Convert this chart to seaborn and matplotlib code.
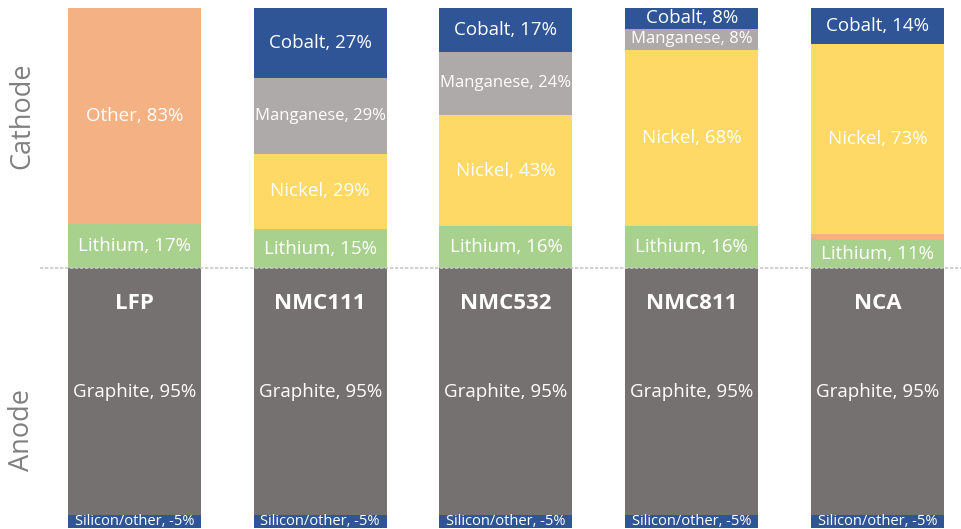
import matplotlib
matplotlib.use("Agg")
import matplotlib.pyplot as plt
import seaborn as sns
import numpy as np

# ---- data ----
categories = ["LFP", "NMC111", "NMC532", "NMC811", "NCA"]
# cathode (stacked upward, bottom -> top)
lithium = [17, 15, 16, 16, 11]
other = [83, 0, 0, 0, 2]
nickel = [0, 29, 43, 68, 73]
manganese = [0, 29, 24, 8, 0]
cobalt = [0, 27, 17, 8, 14]
# anode (stacked downward)
graphite = [95, 95, 95, 95, 95]
silicon = [5, 5, 5, 5, 5]

cathode_layers = [
    ("Lithium", lithium, "#A9D18E", 13.5),
    ("Other", other, "#F4B183", 13.5),
    ("Nickel", nickel, "#FFD966", 13.5),
    ("Manganese", manganese, "#AEAAAA", 12),
    ("Cobalt", cobalt, "#2F5597", 13.5),
]
anode_layers = [
    ("Graphite", graphite, "#767171", 13.5),
    ("Silicon/other", silicon, "#2F5597", 10.5),
]

sns.set_theme(style="white")
plt.rcParams["font.family"] = ["Open Sans", "DejaVu Sans"]

fig = plt.figure(figsize=(9.61, 5.29), dpi=100)
ax = fig.add_axes([0, 0, 1, 1])

width = 0.716

# cathode: draw cumulative totals from top layer down
cum = np.cumsum([np.array(l[1]) for l in cathode_layers], axis=0)
for i in range(len(cathode_layers) - 1, -1, -1):
    sns.barplot(x=categories, y=cum[i], color=cathode_layers[i][2], width=width,
                saturation=1, errorbar=None, ax=ax, linewidth=0, order=categories)

# anode: draw cumulative (negative) totals from bottom layer up
acum = np.cumsum([np.array(l[1]) for l in anode_layers], axis=0)
for i in range(len(anode_layers) - 1, -1, -1):
    sns.barplot(x=categories, y=-acum[i], color=anode_layers[i][2], width=width,
                saturation=1, errorbar=None, ax=ax, linewidth=0, order=categories)

# labels
for i in range(len(cathode_layers)):
    name, vals, col, fs = cathode_layers[i]
    for j, v in enumerate(vals):
        if v >= 5:
            base = cum[i][j] - v
            ax.text(j, base + v / 2, f"{name}, {v}%", ha="center", va="center",
                    color="white", fontsize=fs)

for i in range(len(anode_layers)):
    name, vals, col, fs = anode_layers[i]
    for j, v in enumerate(vals):
        top = -(acum[i][j] - v)
        txt = f"{name}, -{v}%" if name == "Silicon/other" else f"{name}, {v}%"
        yc = top - v / 2
        if name == "Graphite":
            yc = -47.5
        ax.text(j, yc, txt, ha="center", va="center", color="white", fontsize=fs)

for j, c in enumerate(categories):
    ax.text(j, -13.5, c, ha="center", va="center", color="white",
            fontsize=16, fontweight="bold")

# divider line
ax.axhline(0, xmin=40 / 961, xmax=1, color="#C8C8C8", lw=1.2, ls=(0, (2, 1)), zorder=5)

ax.set_xlim(-0.724, 4.450)
ax.set_ylim(-100.38, 103.08)
ax.axis("off")

fig.text(22 / 961, 1 - 116 / 529, "Cathode", rotation=90, ha="center", va="center",
         color="#808080", fontsize=19.5)
fig.text(22 / 961, 1 - 430 / 529, "Anode", rotation=90, ha="center", va="center",
         color="#808080", fontsize=19.5)

fig.savefig("out.png", dpi=100)
